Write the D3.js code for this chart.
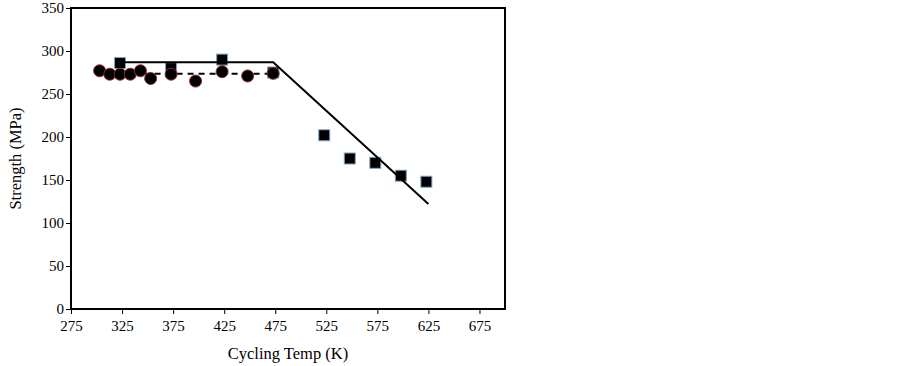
<!DOCTYPE html>
<html>
<head>
<meta charset="utf-8">
<script src="https://cdn.jsdelivr.net/npm/d3@7"></script>
<style>
  body { margin: 0; background: #fff; }
  text { font-family: "Liberation Serif", "Times New Roman", serif; }
</style>
</head>
<body>
<script>
const width = 903;
const height = 366;

// squares (solid fit)
const squareTemp = [323, 373, 423, 473, 523, 548, 573, 598, 623];
const squareStrength = [286, 280, 290, 275, 202, 175, 170, 155, 148];

// circles (dashed fit)
const circleTemp = [303, 313, 323, 333, 343, 353, 373, 397, 423, 448, 473];
const circleStrength = [277, 273, 273, 273, 277, 268, 273, 265, 276, 271, 274];

// fit lines
const solidTemp = [320, 473, 625];
const solidStrength = [287, 287, 122];
const dashTemp = [303, 473];
const dashStrength = [273.5, 273.5];

const xTicks = [275, 325, 375, 425, 475, 525, 575, 625, 675];
const yTicks = [0, 50, 100, 150, 200, 250, 300, 350];

const plot = { left: 71, right: 505, top: 8, bottom: 309 };

let svg = d3.select('body').append('svg')
  .attr('width', width).attr('height', height);

let x = d3.scaleLinear([275, 700], [plot.left, plot.right]);
let y = d3.scaleLinear([0, 350], [plot.bottom, plot.top]);

// axes
let axisX = d3.axisBottom(x).tickValues(xTicks).tickSize(5).tickSizeOuter(0);
let axisY = d3.axisLeft(y).tickValues(yTicks).tickSize(5).tickSizeOuter(0);

let gx = svg.append('g').attr('transform', `translate(0,${plot.bottom})`).call(axisX);
let gy = svg.append('g').attr('transform', `translate(${plot.left},0)`).call(axisY);

[gx, gy].forEach(g => {
  g.attr('font-family', null);
  g.select('.domain').remove();
  g.selectAll('line').attr('stroke', '#000');
  g.selectAll('text').attr('font-size', 15).attr('fill', '#000');
});
gx.selectAll('text').attr('dy', '0.95em');
gy.selectAll('text').attr('x', -7);

// frame
svg.append('rect').attr('x', plot.left).attr('y', plot.top)
  .attr('width', plot.right - plot.left).attr('height', plot.bottom - plot.top)
  .attr('fill', 'none').attr('stroke', '#000').attr('stroke-width', 2);

// axis titles
svg.append('text').attr('x', (plot.left + plot.right) / 2).attr('y', 359)
  .attr('text-anchor', 'middle').attr('font-size', 16.5).text('Cycling Temp (K)');
svg.append('text').attr('transform', `translate(21,${(plot.top + plot.bottom) / 2}) rotate(-90)`)
  .attr('text-anchor', 'middle').attr('font-size', 16.5).text('Strength (MPa)');

let line = d3.line().x(d => x(d[0])).y(d => y(d[1]));

// dashed fit
svg.append('path').datum(dashTemp.map((t, i) => [t, dashStrength[i]]))
  .attr('d', line).attr('fill', 'none').attr('stroke', '#000')
  .attr('stroke-width', 2).attr('stroke-dasharray', '6 5');

// squares
const sq = 11;
svg.append('g').selectAll('rect')
  .data(squareTemp.map((t, i) => ({ t, s: squareStrength[i] })))
  .join('rect')
  .attr('x', d => x(d.t) - sq / 2).attr('y', d => y(d.s) - sq / 2)
  .attr('width', sq).attr('height', sq)
  .attr('fill', '#000').attr('stroke', '#7fa6c9').attr('stroke-width', 1);

// solid fit
svg.append('path').datum(solidTemp.map((t, i) => [t, solidStrength[i]]))
  .attr('d', line).attr('fill', 'none').attr('stroke', '#000').attr('stroke-width', 2);

// circles
svg.append('g').selectAll('circle')
  .data(circleTemp.map((t, i) => ({ t, s: circleStrength[i] })))
  .join('circle')
  .attr('cx', d => x(d.t)).attr('cy', d => y(d.s)).attr('r', 6)
  .attr('fill', '#000').attr('stroke', '#8b2a2a').attr('stroke-width', 1);
</script>
</body>
</html>
